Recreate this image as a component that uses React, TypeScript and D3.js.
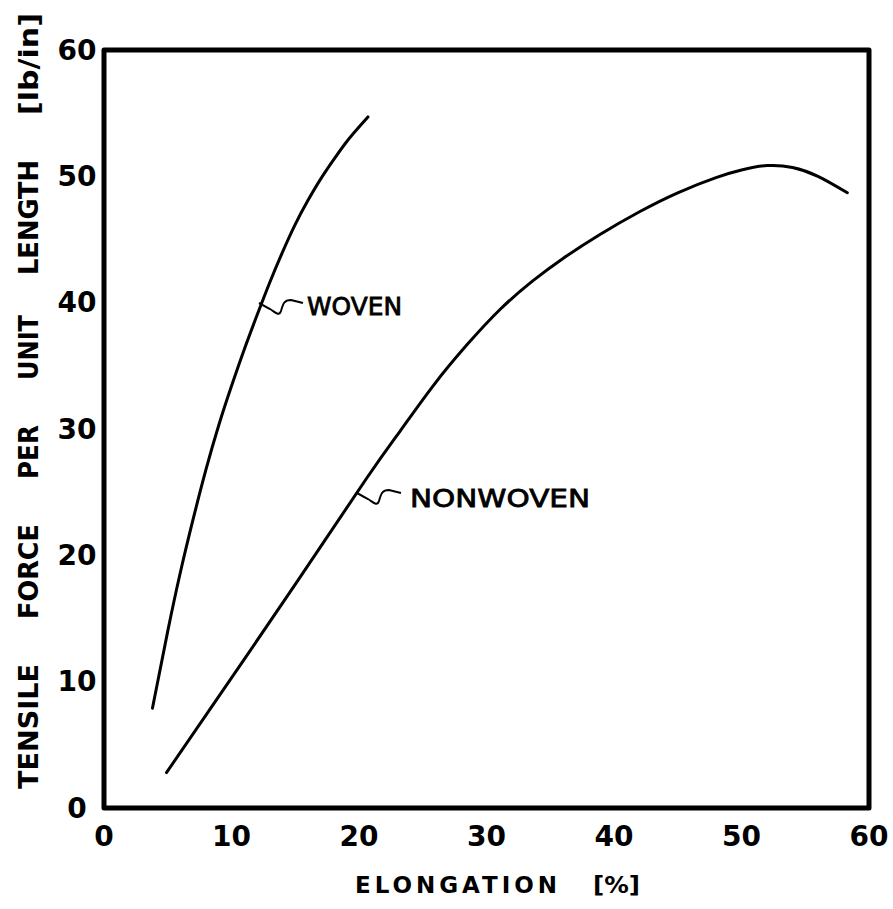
import React from "react";
import * as d3 from "d3";

const xTicks = [0, 10, 20, 30, 40, 50, 60];
const yTicks = [0, 10, 20, 30, 40, 50, 60];

const wovenX = [3.8, 5, 6, 7, 8, 9, 10, 11, 12, 13, 14, 15, 16, 17, 18, 19, 20, 20.7];
const wovenY = [7.9, 14.0, 18.7, 22.9, 26.8, 30.3, 33.4, 36.3, 39.0, 41.6, 44.0, 46.2, 48.1, 49.8, 51.3, 52.7, 53.9, 54.7];

const nonwovenX = [4.9, 10, 15, 20.6, 23.2, 25.8, 28.5, 31.1, 33.6, 36, 38.9, 42, 45, 48, 50, 52, 54, 56, 58.3];
const nonwovenY = [2.8, 10.3, 17.7, 26.1, 29.8, 33.4, 36.7, 39.5, 41.7, 43.5, 45.4, 47.2, 48.7, 49.9, 50.5, 50.85, 50.7, 50.0, 48.7];

const yTitleWords = ["TENSILE", "FORCE", "PER", "UNIT", "LENGTH", "[lb/in]"];
const yTitleSpans = [[664, 789], [524, 619], [425, 479], [315, 380], [160, 275], [13, 115]];

export default function App() {
  const W = 893, H = 909;
  const x = d3.scaleLinear().domain([0, 60]).range([104, 869]);
  const y = d3.scaleLinear().domain([0, 60]).range([808, 50]);
  const line = d3
    .line<[number, number]>()
    .x((d) => x(d[0]))
    .y((d) => y(d[1]))
    .curve(d3.curveNatural);
  const woven = wovenX.map((v, i) => [v, wovenY[i]] as [number, number]);
  const nonwoven = nonwovenX.map((v, i) => [v, nonwovenY[i]] as [number, number]);
  const font = "'DejaVu Sans', sans-serif";

  const leader = (cx: number, cy: number) =>
    `M${cx},${cy} L${cx + 11},${cy + 6} C${cx + 16},${cy + 9} ${cx + 20},${cy + 14} ${cx + 22},${cy + 8} C${cx + 24},${cy + 1} ${cx + 25},${cy - 3} ${cx + 32},${cy - 3} L${cx + 44},${cy}`;

  return (
    <svg
      width={W}
      height={H}
      style={{ position: "absolute", left: 0, top: 0, background: "#fff" }}
    >
      <rect x={0} y={0} width={W} height={H} fill="#fff" />
      <rect
        x={x(0)}
        y={y(60)}
        width={x(60) - x(0)}
        height={y(0) - y(60)}
        fill="none"
        stroke="#000"
        strokeWidth={5}
        strokeLinejoin="round"
      />
      <path d={line(woven) || ""} fill="none" stroke="#000" strokeWidth={3} strokeLinecap="round" />
      <path d={line(nonwoven) || ""} fill="none" stroke="#000" strokeWidth={3} strokeLinecap="round" />

      <path d={leader(259, 303)} fill="none" stroke="#000" strokeWidth={2} />
      <text x={307} y={315} fontFamily={font} fontSize={25} stroke="#000" strokeWidth={0.8} textLength={95} lengthAdjust="spacingAndGlyphs">WOVEN</text>
      <path d={leader(357, 493)} fill="none" stroke="#000" strokeWidth={2} />
      <text x={410} y={507} fontFamily={font} fontSize={25} stroke="#000" strokeWidth={0.8} textLength={180} lengthAdjust="spacingAndGlyphs">NONWOVEN</text>

      {xTicks.map((t) => (
        <text
          key={"x" + t}
          x={x(t)}
          y={836}
          textAnchor="middle"
          dominantBaseline="central"
          fontFamily={font}
          fontWeight="bold"
          fontSize={28}
        >
          {t}
        </text>
      ))}
      {yTicks.map((t) => (
        <text
          key={"y" + t}
          x={77}
          y={y(t)}
          textAnchor="middle"
          dominantBaseline="central"
          fontFamily={font}
          fontWeight="bold"
          fontSize={28}
        >
          {t}
        </text>
      ))}

      <text x={355} y={893} fontFamily={font} fontWeight="bold" fontSize={23} textLength={202} lengthAdjust="spacing">ELONGATION</text>
      <text x={593} y={893} fontFamily={font} fontWeight="bold" fontSize={23} textLength={47} lengthAdjust="spacingAndGlyphs">[%]</text>

      {yTitleWords.map((w, i) => (
        <text
          key={w}
          transform={`translate(38, ${yTitleSpans[i][1]}) rotate(-90)`}
          fontFamily={font}
          fontWeight="bold"
          fontSize={27}
          textLength={yTitleSpans[i][1] - yTitleSpans[i][0]}
          lengthAdjust="spacingAndGlyphs"
        >
          {w}
        </text>
      ))}
    </svg>
  );
}
